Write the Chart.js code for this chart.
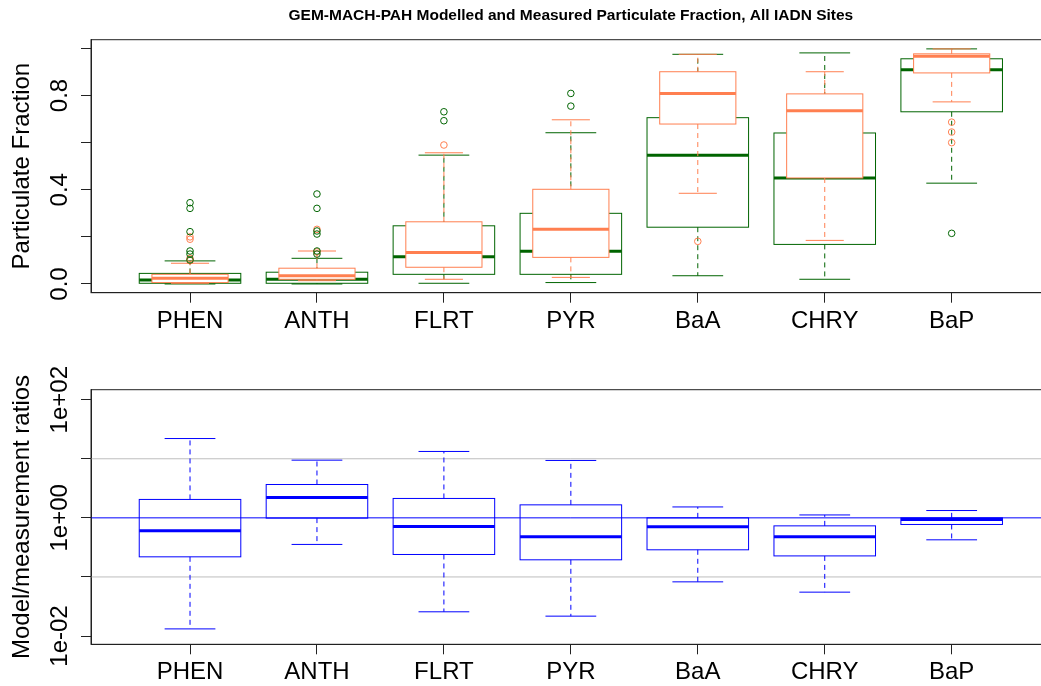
<!DOCTYPE html>
<html>
<head>
<meta charset="utf-8">
<title>GEM-MACH-PAH particulate fraction</title>
<script src="https://cdn.jsdelivr.net/npm/chart.js@4.4.1/dist/chart.umd.min.js"></script>
<style>
    html, body { margin: 0; padding: 0; background: #fff; overflow: hidden; }
    #wrap { position: relative; width: 1041px; height: 686px; overflow: hidden; }
    #wrap canvas { position: absolute; left: 0; }
</style>
</head>
<body>
<div id="wrap">
    <canvas id="fracChart" width="1060" height="343" style="top:0"></canvas>
    <canvas id="ratioChart" width="1060" height="343" style="top:343px"></canvas>
</div>
<script>
// Chart.js defaults
Chart.defaults.font.family = "'Liberation Sans', Arial, sans-serif";
Chart.defaults.color = '#000';
Chart.defaults.animation = false;

const compounds = ['PHEN', 'ANTH', 'FLRT', 'PYR', 'BaA', 'CHRY', 'BaP'];

// Measured particulate fraction (green): whisker ends, quartiles, median
const measLow  = [0.000, 0.000, 0.003, 0.006, 0.035, 0.020, 0.428];
const measQ1   = [0.003, 0.003, 0.041, 0.041, 0.241, 0.168, 0.731];
const measMed  = [0.017, 0.020, 0.116, 0.139, 0.547, 0.450, 0.909];
const measQ3   = [0.045, 0.050, 0.247, 0.300, 0.706, 0.641, 0.956];
const measHigh = [0.098, 0.109, 0.547, 0.642, 0.975, 0.981, 0.998];
const measOut  = [[0.345, 0.321, 0.222, 0.140, 0.127, 0.102], [0.382, 0.321, 0.225, 0.212, 0.140, 0.127], [0.731, 0.693], [0.809, 0.755], [], [], [0.215]];

// Modelled particulate fraction (coral)
const modLow  = [0.003, 0.014, 0.020, 0.028, 0.385, 0.185, 0.773];
const modQ1   = [0.006, 0.020, 0.071, 0.113, 0.679, 0.450, 0.896];
const modMed  = [0.024, 0.035, 0.134, 0.232, 0.809, 0.735, 0.967];
const modQ3   = [0.041, 0.067, 0.264, 0.402, 0.901, 0.807, 0.977];
const modHigh = [0.088, 0.140, 0.557, 0.697, 0.975, 0.901, 0.998];
const modOut  = [[0.200, 0.190, 0.109, 0.099], [0.232, 0.136], [0.590], [], [0.181], [], [0.687, 0.645, 0.600]];

// Model/measurement ratios (blue, log scale)
const ratioLow  = [0.0132, 0.355, 0.0257, 0.0217, 0.0826, 0.0553, 0.425];
const ratioQ1   = [0.219, 0.99, 0.240, 0.195, 0.288, 0.227, 0.773];
const ratioMed  = [0.603, 2.21, 0.715, 0.477, 0.704, 0.477, 0.940];
const ratioQ3   = [2.05, 3.67, 2.13, 1.66, 1.00, 0.732, 1.00];
const ratioHigh = [22.0, 9.47, 13.3, 9.36, 1.53, 1.12, 1.33];

// Axis ticks
const fracTicks = [0, 0.2, 0.4, 0.6, 0.8, 1.0];
const fracTickLabels = ['0.0', '', '0.4', '', '0.8', ''];
const ratioTicks = [0.01, 0.1, 1, 10, 100];
const ratioTickLabels = ['1e-02', '', '1e+00', '', '1e+02'];
const ratioGuides = [10, 0.1];
const ratioUnity = 1;

const AXIS_COLOR = '#222';

function line(ctx, x1, y1, x2, y2) {
    ctx.beginPath();
    ctx.moveTo(x1, y1);
    ctx.lineTo(x2, y2);
    ctx.stroke();
}

// Draw one set of boxplots through the chart scales
function drawBoxes(chart, s) {
    const ctx = chart.ctx;
    const xs = chart.scales.x;
    const ys = chart.scales.y;
    for (let i = 0; i < compounds.length; i++) {
        const pos = i + 1;
        const cx = xs.getPixelForValue(pos);
        const bl = xs.getPixelForValue(pos - s.half);
        const br = xs.getPixelForValue(pos + s.half);
        const sl = xs.getPixelForValue(pos - s.half / 2);
        const sr = xs.getPixelForValue(pos + s.half / 2);
        const yLo = ys.getPixelForValue(s.lo[i]);
        const yQ1 = ys.getPixelForValue(s.q1[i]);
        const yMed = ys.getPixelForValue(s.med[i]);
        const yQ3 = ys.getPixelForValue(s.q3[i]);
        const yHi = ys.getPixelForValue(s.hi[i]);

        ctx.strokeStyle = s.color;
        ctx.lineWidth = 1;
        ctx.setLineDash([]);
        // box
        ctx.fillStyle = '#fff';
        ctx.fillRect(bl, yQ3, br - bl, yQ1 - yQ3);
        ctx.strokeRect(bl, yQ3, br - bl, yQ1 - yQ3);
        // median
        ctx.lineWidth = 3;
        line(ctx, bl, yMed, br, yMed);
        // whiskers
        ctx.lineWidth = 1;
        ctx.setLineDash([5, 4]);
        line(ctx, cx, yQ3, cx, yHi);
        line(ctx, cx, yQ1, cx, yLo);
        ctx.setLineDash([]);
        // staples
        line(ctx, sl, yHi, sr, yHi);
        line(ctx, sl, yLo, sr, yLo);
    }
}

function makeBoxPlugin(sets, tickVals, tickLabels, guides, unity) {
    return {
        id: 'boxLayer',
        beforeDatasetsDraw(chart) {
            const ctx = chart.ctx;
            const area = chart.chartArea;
            const ys = chart.scales.y;
            ctx.save();
            ctx.beginPath();
            ctx.rect(area.left, area.top, area.right - area.left, area.bottom - area.top);
            ctx.clip();
            ctx.strokeStyle = '#bebebe';
            ctx.lineWidth = 1;
            guides.forEach(v => {
                const y = ys.getPixelForValue(v);
                line(ctx, area.left, y, area.right, y);
            });
            sets.forEach(s => drawBoxes(chart, s));
            ctx.restore();
        },
        afterDatasetsDraw(chart) {
            if (unity === null) return;
            const ctx = chart.ctx;
            const area = chart.chartArea;
            const y = chart.scales.y.getPixelForValue(unity);
            ctx.save();
            ctx.strokeStyle = '#0000ff';
            ctx.lineWidth = 1;
            line(ctx, area.left, y, area.right, y);
            ctx.restore();
        },
        afterDraw(chart) {
            const ctx = chart.ctx;
            const area = chart.chartArea;
            const ys = chart.scales.y;
            ctx.save();
            // frame around the plot region
            ctx.strokeStyle = AXIS_COLOR;
            ctx.lineWidth = 1;
            ctx.strokeRect(area.left, area.top, area.right - area.left, area.bottom - area.top);
            // rotated y tick labels
            ctx.fillStyle = '#000';
            ctx.font = "24px 'Liberation Sans', Arial, sans-serif";
            ctx.textAlign = 'center';
            ctx.textBaseline = 'alphabetic';
            tickVals.forEach((v, i) => {
                if (!tickLabels[i]) return;
                ctx.save();
                ctx.translate(ys.right - 24, ys.getPixelForValue(v));
                ctx.rotate(-Math.PI / 2);
                ctx.fillText(tickLabels[i], 0, 0);
                ctx.restore();
            });
            ctx.restore();
        }
    };
}

function outlierPoints(list) {
    const pts = [];
    list.forEach((vals, i) => vals.forEach(v => pts.push({ x: i + 1, y: v })));
    return pts;
}

function xScale(height) {
    return {
        type: 'linear',
        min: 0.22,
        max: 7.78,
        afterBuildTicks: s => { s.ticks = compounds.map((c, i) => ({ value: i + 1 })); },
        afterFit: s => { s.height = height; },
        ticks: {
            autoSkip: false,
            maxRotation: 0,
            padding: 4,
            color: '#000',
            font: { size: 24 },
            callback: (v, i) => compounds[i]
        },
        grid: { display: true, drawOnChartArea: false, tickLength: 10, color: AXIS_COLOR },
        border: { display: true, color: AXIS_COLOR }
    };
}

function yGrid() {
    return { display: true, drawOnChartArea: false, tickLength: 10, color: AXIS_COLOR };
}

function initFractionChart() {
    const ctx = document.getElementById('fracChart').getContext('2d');
    const sets = [
        { lo: measLow, q1: measQ1, med: measMed, q3: measQ3, hi: measHigh, color: '#006400', half: 0.4 },
        { lo: modLow, q1: modQ1, med: modMed, q3: modQ3, hi: modHigh, color: '#ff7f50', half: 0.3 }
    ];
    new Chart(ctx, {
        type: 'scatter',
        data: {
            datasets: [{
                label: 'Measured',
                data: outlierPoints(measOut),
                borderColor: '#006400',
                backgroundColor: 'rgba(0,0,0,0)',
                borderWidth: 1,
                pointRadius: 3.3
            }, {
                label: 'Modelled',
                data: outlierPoints(modOut),
                borderColor: '#ff7f50',
                backgroundColor: 'rgba(0,0,0,0)',
                borderWidth: 1,
                pointRadius: 3.3
            }]
        },
        options: {
            responsive: false,
            events: [],
            layout: { padding: { left: 0, right: 9.3, top: 0, bottom: 0 } },
            plugins: {
                legend: { display: false },
                tooltip: { enabled: false },
                title: {
                    display: true,
                    fullSize: false,
                    text: 'GEM-MACH-PAH Modelled and Measured Particulate Fraction, All IADN Sites',
                    color: '#000',
                    font: { size: 15.5, weight: 'bold' },
                    padding: { top: 6, bottom: 15.1 }
                }
            },
            scales: {
                x: xScale(50.3),
                y: {
                    type: 'linear',
                    min: -0.037,
                    max: 1.037,
                    afterBuildTicks: s => { s.ticks = fracTicks.map(v => ({ value: v })); },
                    afterFit: s => { s.width = 91; },
                    ticks: { display: false },
                    grid: yGrid(),
                    border: { display: true, color: AXIS_COLOR },
                    title: {
                        display: true,
                        text: 'Particulate Fraction',
                        color: '#000',
                        font: { size: 24 },
                        padding: { top: 8, bottom: 0 }
                    }
                }
            }
        },
        plugins: [makeBoxPlugin(sets, fracTicks, fracTickLabels, [], null)]
    });
}

function initRatioChart() {
    const ctx = document.getElementById('ratioChart').getContext('2d');
    const sets = [
        { lo: ratioLow, q1: ratioQ1, med: ratioMed, q3: ratioQ3, hi: ratioHigh, color: '#0000ff', half: 0.4 }
    ];
    new Chart(ctx, {
        type: 'scatter',
        data: { datasets: [] },
        options: {
            responsive: false,
            events: [],
            layout: { padding: { left: 0, right: 9.3, top: 46.7, bottom: 0 } },
            plugins: {
                legend: { display: false },
                tooltip: { enabled: false }
            },
            scales: {
                x: xScale(41.7),
                y: {
                    type: 'logarithmic',
                    min: Math.pow(10, -2.14),
                    max: Math.pow(10, 2.169),
                    afterBuildTicks: s => { s.ticks = ratioTicks.map(v => ({ value: v })); },
                    afterFit: s => { s.width = 91; },
                    ticks: { display: false },
                    grid: yGrid(),
                    border: { display: true, color: AXIS_COLOR },
                    title: {
                        display: true,
                        text: 'Model/measurement ratios',
                        color: '#000',
                        font: { size: 24 },
                        padding: { top: 8, bottom: 0 }
                    }
                }
            }
        },
        plugins: [makeBoxPlugin(sets, ratioTicks, ratioTickLabels, ratioGuides, ratioUnity)]
    });
}

document.addEventListener('DOMContentLoaded', function() {
    initFractionChart();
    initRatioChart();
});
</script>
</body>
</html>
